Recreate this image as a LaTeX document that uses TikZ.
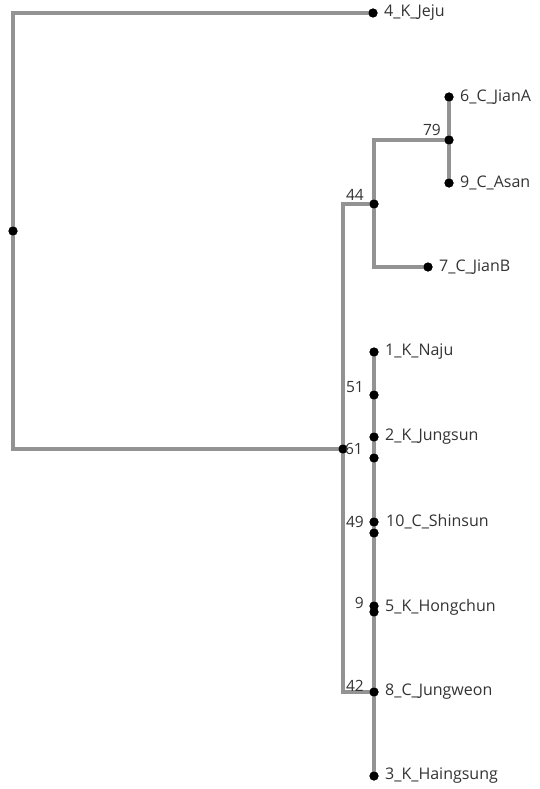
\documentclass[tikz,border=0pt]{standalone}
\usepackage{fontspec}
\setmainfont{Open Sans}
\definecolor{branchgray}{HTML}{939393}
\definecolor{txtgray}{HTML}{333333}
\begin{document}
\begin{tikzpicture}[x=1pt,y=-1pt,
  branch/.style={draw=branchgray,line width=3.2pt},
  dot/.style={circle,fill=black,inner sep=0pt,minimum size=9pt},
  leaflabel/.style={anchor=west,text=txtgray,font=\fontsize{16}{18}\selectfont,inner sep=0pt},
  boot/.style={anchor=south east,text=txtgray,font=\fontsize{15.5}{17}\selectfont,inner sep=0pt}]
\useasboundingbox (0,0) rectangle (540,789);
% dots
\node[dot] (root) at (13,231) {};
\node[dot] (jeju) at (373,13) {};
\node[dot] (ingroup) at (343,449) {};
\node[dot] (n44) at (374,204) {};
\node[dot] (n79) at (449,140) {};
\node[dot] (jiana) at (449,97) {};
\node[dot] (asan) at (449,183) {};
\node[dot] (jianb) at (428,267) {};
\node[dot] (naju) at (374,352) {};
\node[dot] (n51) at (374,395) {};
\node[dot] (jungsun) at (374,437) {};
\node[dot] (n61) at (374,458) {};
\node[dot] (shinsun) at (374,522) {};
\node[dot] (n49) at (374,533) {};
\node[dot] (hongchun) at (374,606) {};
\node[dot] (n9) at (374,612) {};
\node[dot] (jungweon) at (374,692) {};
\node[dot] (haingsung) at (374,776) {};
% branches
\draw[branch] (jeju.center) -| (root.center) |- (ingroup.center);
\draw[branch] (n44.center) -| (ingroup.center) |- (jungweon.center);
\draw[branch] (n79.center) -| (n44.center) |- (jianb.center);
\draw[branch] (jiana.center) -- (n79.center) -- (asan.center);
\draw[branch] (naju.center) -- (n51.center) -- (jungsun.center) -- (n61.center) -- (shinsun.center) -- (n49.center) -- (hongchun.center) -- (n9.center) -- (jungweon.center) -- (haingsung.center);
% redraw dots on top of the branches
\foreach \n in {root,jeju,ingroup,n44,n79,jiana,asan,jianb,naju,n51,jungsun,n61,shinsun,n49,hongchun,n9,jungweon,haingsung}
  \fill (\n.center) circle (4.5pt);
% leaf labels
\node[leaflabel] (ljeju) at (384,13) {4\_K\_Jeju};
\node[leaflabel] (ljiana) at (460,97) {6\_C\_JianA};
\node[leaflabel] (lasan) at (460,183) {9\_C\_Asan};
\node[leaflabel] (ljianb) at (439,267) {7\_C\_JianB};
\node[leaflabel] (lnaju) at (385,352) {1\_K\_Naju};
\node[leaflabel] (ljungsun) at (385,437) {2\_K\_Jungsun};
\node[leaflabel] (lshinsun) at (386,522) {10\_C\_Shinsun};
\node[leaflabel] (lhongchun) at (385,607) {5\_K\_Hongchun};
\node[leaflabel] (ljungweon) at (385,692) {8\_C\_Jungweon};
\node[leaflabel] (lhaingsung) at (385,776) {3\_K\_Haingsung};
% bootstrap labels
\node[boot] (b79) at (441,136) {79};
\node[boot] (b44) at (364,201) {44};
\node[boot] (b51) at (364,393) {51};
\node[boot] (b61) at (363,455) {61};
\node[boot] (b49) at (364,528) {49};
\node[boot] (b9) at (364,609) {9};
\node[boot] (b42) at (364,692) {42};
\end{tikzpicture}
\end{document}
